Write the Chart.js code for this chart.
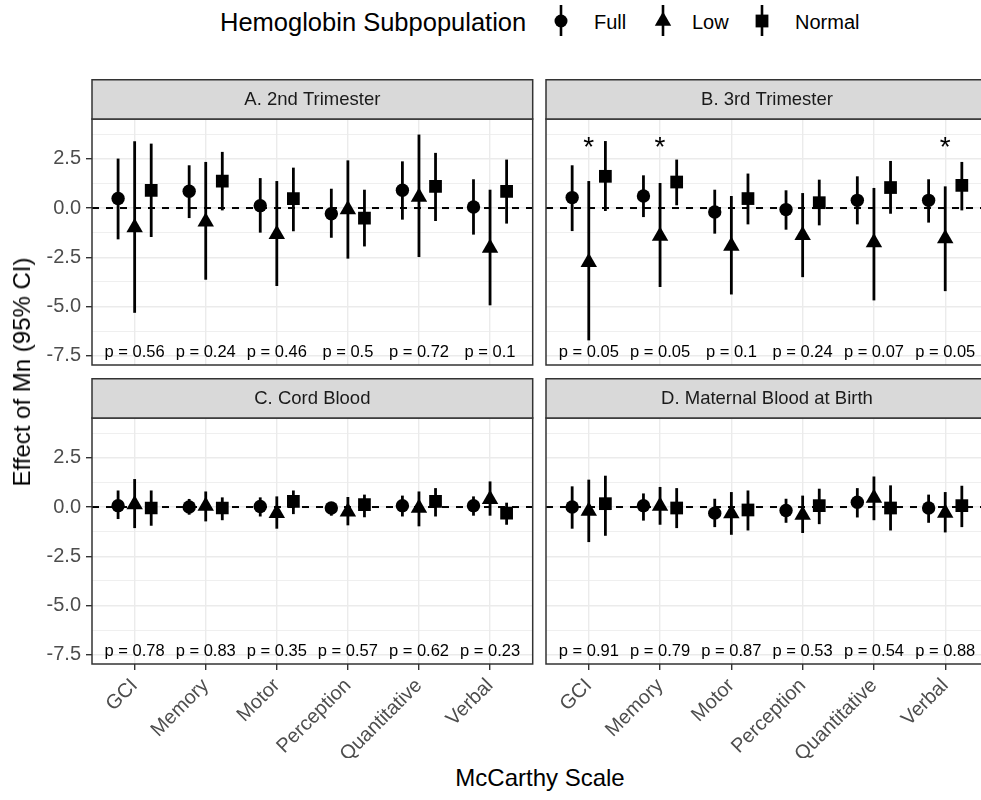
<!DOCTYPE html>
<html>
<head>
<meta charset="utf-8">
<script src="https://cdn.jsdelivr.net/npm/chart.js@4.4.0/dist/chart.umd.min.js"></script>
<style>
  body { margin: 0; background: #fff; width: 981px; height: 800px; overflow: hidden; position: relative;
         font-family: "Liberation Sans", Arial, sans-serif; }
  canvas { position: absolute; }
  .lg { position: absolute; top: 7px; height: 30px; line-height: 30px; color: #000; white-space: nowrap; }
  .key { position: absolute; top: 3px; }
  #ytitle { position: absolute; left: 22px; top: 372px; transform: translate(-50%, -50%) rotate(-90deg);
            font-size: 24px; white-space: nowrap; color: #000; }
  #xtitle { position: absolute; left: 540px; top: 778px; transform: translate(-50%, -50%);
            font-size: 24px; white-space: nowrap; color: #000; }
</style>
</head>
<body>
<div class="lg" style="left:220px;font-size:25.5px">Hemoglobin Subpopulation</div>
<svg class="key" style="left:550px" width="22" height="36"><line x1="11" y1="2" x2="11" y2="33" stroke="#000" stroke-width="2.6"/><circle cx="11" cy="18" r="6.5" fill="#000"/></svg>
<div class="lg" style="left:594px;font-size:20px">Full</div>
<svg class="key" style="left:652px" width="22" height="36"><line x1="11" y1="2" x2="11" y2="33" stroke="#000" stroke-width="2.6"/><polygon points="11,8.5 19.2,22.7 2.8,22.7" fill="#000"/></svg>
<div class="lg" style="left:692px;font-size:20px">Low</div>
<svg class="key" style="left:751px" width="22" height="36"><line x1="11" y1="2" x2="11" y2="33" stroke="#000" stroke-width="2.6"/><rect x="4.6" y="11.6" width="12.8" height="12.8" fill="#000"/></svg>
<div class="lg" style="left:795px;font-size:20px">Normal</div>

<canvas id="cA" width="540" height="290" style="left:0px;top:79px"></canvas>
<canvas id="cB" width="455" height="290" style="left:540px;top:79px"></canvas>
<canvas id="cC" width="540" height="380" style="left:0px;top:378px"></canvas>
<canvas id="cD" width="455" height="380" style="left:540px;top:378px"></canvas>

<div id="ytitle">Effect of Mn (95% CI)</div>
<div id="xtitle">McCarthy Scale</div>

<script>
// --- DATA ---
const categories = ["GCI", "Memory", "Motor", "Perception", "Quantitative", "Verbal"];
const groups = ["Full", "Low", "Normal"];
const yMajor = [-7.5, -5, -2.5, 0, 2.5];
const yMinor = [-6.25, -3.75, -1.25, 1.25, 3.75];

// A. 2nd Trimester
const estA_full = [0.48, 0.85, 0.12, -0.29, 0.90, 0.05];
const loA_full  = [-1.59, -0.51, -1.25, -1.51, -0.59, -1.35];
const hiA_full  = [2.51, 2.17, 1.52, 0.98, 2.37, 1.46];
const estA_low  = [-0.99, -0.70, -1.33, -0.08, 0.56, -2.03];
const loA_low   = [-5.32, -3.64, -3.96, -2.57, -2.49, -4.94];
const hiA_low   = [3.39, 2.34, 1.37, 2.42, 3.73, 0.93];
const estA_norm = [0.90, 1.37, 0.48, -0.51, 1.10, 0.85];
const loA_norm  = [-1.47, -0.12, -1.18, -1.95, -0.66, -0.79];
const hiA_norm  = [3.27, 2.85, 2.05, 0.93, 2.80, 2.46];
const pA = [0.56, 0.24, 0.46, 0.5, 0.72, 0.1];

// B. 3rd Trimester
const estB_full = [0.53, 0.61, -0.20, -0.08, 0.39, 0.39];
const loB_full  = [-1.17, -0.46, -1.30, -1.10, -0.83, -0.74];
const hiB_full  = [2.17, 1.66, 0.93, 0.90, 1.61, 1.46];
const estB_low  = [-2.75, -1.42, -1.93, -1.38, -1.75, -1.55];
const loB_low   = [-6.72, -4.01, -4.39, -3.51, -4.69, -4.22];
const hiB_low   = [1.37, 1.27, 0.61, 0.76, 1.02, 1.10];
const estB_norm = [1.61, 1.32, 0.48, 0.27, 1.04, 1.15];
const loB_norm  = [-0.15, 0.14, -0.83, -0.88, -0.29, -0.12];
const hiB_norm  = [3.40, 2.46, 1.75, 1.44, 2.39, 2.34];
const pB = [0.05, 0.05, 0.1, 0.24, 0.07, 0.05];
const starsB = ["*", "*", "", "", "", "*"];

// C. Cord Blood
const estC_full = [0.07, 0.00, 0.03, -0.05, 0.07, 0.07];
const loC_full  = [-0.61, -0.39, -0.48, -0.44, -0.48, -0.44];
const hiC_full  = [0.84, 0.41, 0.49, 0.20, 0.58, 0.54];
const estC_low  = [0.13, 0.05, -0.32, -0.24, -0.05, 0.39];
const loC_low   = [-1.07, -0.73, -1.10, -0.93, -0.98, -0.44];
const hiC_low   = [1.42, 0.79, 0.54, 0.51, 0.79, 1.30];
const estC_norm = [-0.05, -0.05, 0.29, 0.12, 0.29, -0.31];
const loC_norm  = [-0.95, -0.67, -0.36, -0.52, -0.48, -0.90];
const hiC_norm  = [0.84, 0.49, 0.84, 0.63, 0.96, 0.22];
const pC = [0.78, 0.83, 0.35, 0.57, 0.62, 0.23];

// D. Maternal Blood at Birth
const estD_full = [0.00, 0.07, -0.31, -0.18, 0.24, -0.05];
const loD_full  = [-1.10, -0.69, -1.02, -0.80, -0.53, -0.80];
const hiD_full  = [1.05, 0.69, 0.42, 0.42, 0.96, 0.63];
const estD_low  = [-0.20, 0.05, -0.33, -0.40, 0.46, -0.30];
const loD_low   = [-1.78, -0.90, -1.41, -1.32, -0.67, -1.29];
const hiD_low   = [1.39, 1.02, 0.76, 0.58, 1.55, 0.76];
const estD_norm = [0.17, -0.05, -0.15, 0.07, -0.05, 0.07];
const loD_norm  = [-1.46, -1.07, -1.19, -0.87, -1.19, -1.02];
const hiD_norm  = [1.59, 0.96, 0.84, 0.93, 1.10, 1.08];
const pD = [0.91, 0.79, 0.87, 0.53, 0.54, 0.88];

// --- STYLE ---
const FONT = '"Liberation Sans", Arial, sans-serif';
Chart.defaults.font.family = FONT;
const dodge = [-0.233, 0, 0.233];       // position_dodge(0.7)
const shapes = ["circle", "triangle", "rect"];
const radii = [6.7, 9.5, 9];
const gridCol = "#EBEBEB";
const darkCol = "#333333";

function panelPlugin(cfg) {
  return {
    id: "panel",
    beforeDatasetsDraw(chart) {
      const { ctx, chartArea: a, scales: { x, y } } = chart;
      ctx.save();
      // reference line at 0
      const y0 = y.getPixelForValue(0);
      ctx.beginPath();
      ctx.setLineDash([7, 7]);
      ctx.lineWidth = 2;
      ctx.strokeStyle = "#000";
      ctx.moveTo(a.left, y0);
      ctx.lineTo(a.right, y0);
      ctx.stroke();
      ctx.setLineDash([]);
      // 95% CI bars
      ctx.lineWidth = 2.8;
      groups.forEach((g, k) => {
        cfg.lo[k].forEach((lo, i) => {
          const px = x.getPixelForValue(i + 1 + dodge[k]);
          ctx.beginPath();
          ctx.moveTo(px, y.getPixelForValue(lo));
          ctx.lineTo(px, y.getPixelForValue(cfg.hi[k][i]));
          ctx.stroke();
        });
      });
      ctx.restore();
    },
    afterDraw(chart) {
      const { ctx, chartArea: a, scales: { x, y } } = chart;
      ctx.save();
      // p-values
      ctx.fillStyle = "#000";
      ctx.font = "16.5px " + FONT;
      ctx.textAlign = "center";
      ctx.textBaseline = "alphabetic";
      cfg.p.forEach((p, i) => {
        ctx.fillText("p = " + p, x.getPixelForValue(i + 1), y.getPixelForValue(-7.5) + 1);
      });
      if (cfg.stars) {
        ctx.font = "28px " + FONT;
        cfg.stars.forEach((s, i) => {
          if (s) ctx.fillText(s, x.getPixelForValue(i + 1), y.getPixelForValue(3.3) + 13);
        });
      }
      // panel border
      ctx.strokeStyle = darkCol;
      ctx.lineWidth = 1.5;
      ctx.strokeRect(a.left, a.top, a.right - a.left, a.bottom - a.top);
      // strip
      ctx.fillStyle = "#D9D9D9";
      ctx.fillRect(a.left, 0.75, a.right - a.left, a.top - 0.75);
      ctx.strokeRect(a.left, 0.75, a.right - a.left, a.top - 0.75);
      ctx.fillStyle = "#1A1A1A";
      ctx.font = "18.5px " + FONT;
      ctx.textBaseline = "middle";
      ctx.fillText(cfg.title, (a.left + a.right) / 2, a.top / 2 + 1);
      ctx.restore();
    }
  };
}

function makePanel(id, cfg) {
  const isMinor = v => yMinor.includes(v);
  return new Chart(document.getElementById(id), {
    type: "scatter",
    data: {
      datasets: groups.map((g, k) => ({
        label: g,
        data: cfg.est[k].map((v, i) => ({ x: i + 1 + dodge[k], y: v })),
        pointStyle: shapes[k],
        pointRadius: radii[k],
        pointHoverRadius: radii[k],
        backgroundColor: "#000",
        borderWidth: 0
      }))
    },
    options: {
      responsive: false,
      animation: false,
      devicePixelRatio: 1,
      events: [],
      layout: { autoPadding: false, padding: { top: 40, right: cfg.padRight, bottom: cfg.padBottom, left: 0 } },
      plugins: { legend: { display: false }, tooltip: { enabled: false } },
      scales: {
        x: {
          type: "linear",
          min: 0.4,
          max: 6.6,
          afterBuildTicks: s => { s.ticks = categories.map((c, i) => ({ value: i + 1 })); },
          afterFit: s => { s.height = cfg.xHeight; s.paddingLeft = 0; s.paddingRight = 0; },
          ticks: {
            display: cfg.showX,
            autoSkip: false,
            minRotation: 45,
            maxRotation: 45,
            padding: 4,
            color: "#4D4D4D",
            font: { size: 20 },
            callback: v => categories[Math.round(v) - 1]
          },
          grid: { color: gridCol, lineWidth: 1.4, drawTicks: cfg.showX, tickLength: 6, tickColor: darkCol, tickWidth: 1.4 },
          border: { display: false }
        },
        y: {
          min: -7.97,
          max: 4.52,
          afterBuildTicks: s => {
            s.ticks = yMajor.concat(yMinor).sort((p, q) => p - q).map(v => ({ value: v }));
          },
          afterFit: s => { s.width = cfg.yWidth; s.paddingTop = 0; s.paddingBottom = 0; },
          ticks: {
            display: cfg.showY,
            autoSkip: false,
            padding: 5,
            color: "#4D4D4D",
            font: { size: 20 },
            callback: v => (isMinor(v) ? "" : v.toFixed(1))
          },
          grid: {
            color: gridCol,
            lineWidth: c => (c.tick && isMinor(c.tick.value) ? 0.8 : 1.4),
            drawTicks: cfg.showY,
            tickLength: 6,
            tickColor: c => (c.tick && isMinor(c.tick.value) ? "rgba(0,0,0,0)" : darkCol),
            tickWidth: 1.4
          },
          border: { display: false }
        }
      }
    },
    plugins: [panelPlugin(cfg)]
  });
}

makePanel("cA", {
  title: "A. 2nd Trimester",
  est: [estA_full, estA_low, estA_norm], lo: [loA_full, loA_low, loA_norm], hi: [hiA_full, hiA_low, hiA_norm],
  p: pA, showX: false, showY: true, yWidth: 92, xHeight: 0, padRight: 7.3, padBottom: 4
});
makePanel("cB", {
  title: "B. 3rd Trimester",
  est: [estB_full, estB_low, estB_norm], lo: [loB_full, loB_low, loB_norm], hi: [hiB_full, hiB_low, hiB_norm],
  p: pB, stars: starsB, showX: false, showY: false, yWidth: 6, xHeight: 0, padRight: 7, padBottom: 4
});
makePanel("cC", {
  title: "C. Cord Blood",
  est: [estC_full, estC_low, estC_norm], lo: [loC_full, loC_low, loC_norm], hi: [hiC_full, hiC_low, hiC_norm],
  p: pC, showX: true, showY: true, yWidth: 92, xHeight: 94, padRight: 7.3, padBottom: 0
});
makePanel("cD", {
  title: "D. Maternal Blood at Birth",
  est: [estD_full, estD_low, estD_norm], lo: [loD_full, loD_low, loD_norm], hi: [hiD_full, hiD_low, hiD_norm],
  p: pD, showX: true, showY: false, yWidth: 6, xHeight: 94, padRight: 7, padBottom: 0
});
</script>
</body>
</html>
